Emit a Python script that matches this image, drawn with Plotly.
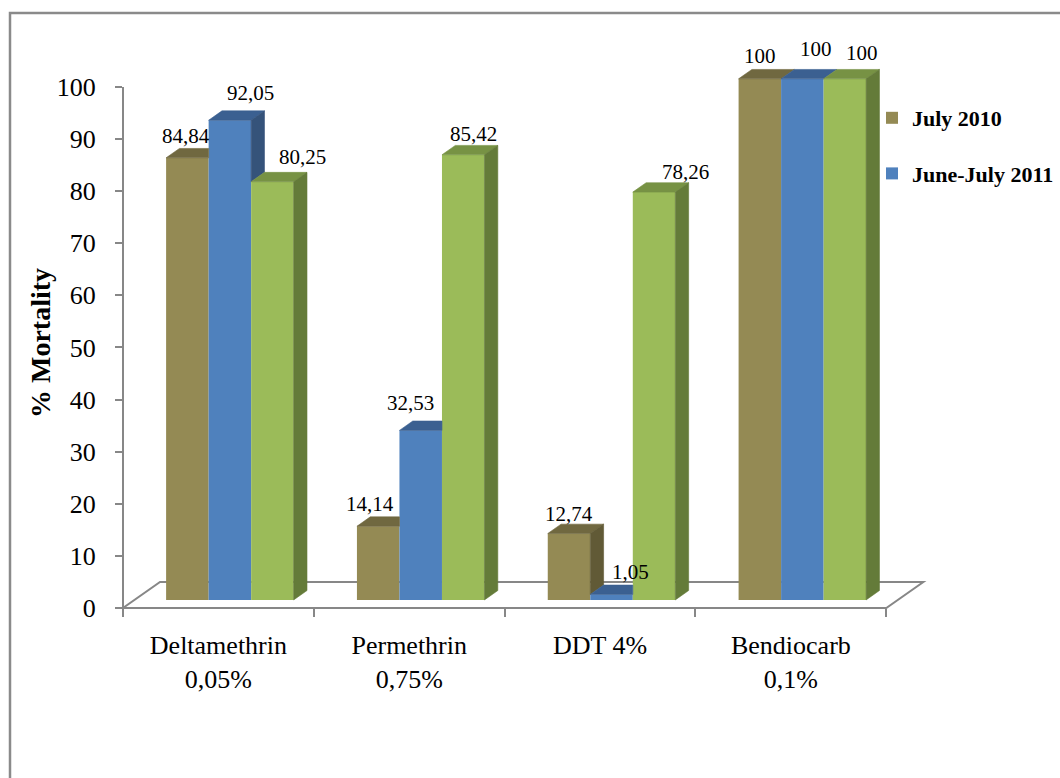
import plotly.graph_objects as go

# ---- data -------------------------------------------------------------
categories = ["Deltamethrin<br>0,05%", "Permethrin<br>0,75%", "DDT 4%", "Bendiocarb<br>0,1%"]
july_2010 = [84.84, 14.14, 12.74, 100]
june_july_2011 = [92.05, 32.53, 1.05, 100]
third_series = [80.25, 85.42, 78.26, 100]
y_tick_values = [0, 10, 20, 30, 40, 50, 60, 70, 80, 90, 100]

# ---- styling ----------------------------------------------------------
series = [
    dict(name="July 2010", values=july_2010, legend=True,
         front="#948A54", top="#706840", side="#615A36"),
    dict(name="June-July 2011", values=june_july_2011, legend=True,
         front="#4F81BD", top="#3B6091", side="#35537A"),
    dict(name="", values=third_series, legend=False,
         front="#9BBB59", top="#779244", side="#647B39"),
]

# value-label nudges in pixels (right, up) from the top centre of each front face
label_nudge = [
    [(-1.5, 21.7), (-8.5, 21.8), (0, 19.5), (0, 22.5)],
    [(21, 27), (-10.5, 27.5), (18.5, 22.5), (14, 29.5)],
    [(30.5, 24.4), (10.5, 21), (31.5, 20), (17, 26)],
]

SERIF = "Liberation Serif, Times New Roman, serif"
AXIS_GREY = "#878787"

W, H = 1060, 778
M_L, M_R, M_T, M_B = 123, 126, 40, 170
X_RANGE = [-0.5, 3.75]
Y_RANGE = [0, 109]

# pseudo-3D geometry (depth measured in y units, slanting up and right)
K = 0.0388          # x shift per unit of depth
FLOOR_DEPTH = 5.0
BAR_FRONT = 1.55    # depth of the bars' front faces
BAR_DEPTH = 1.8     # depth of each bar
BAR_W = 0.2228


def fmt(v):
    return str(int(v)) if float(v).is_integer() else f"{v:.2f}".replace(".", ",")


def px(xd):
    return (xd - X_RANGE[0]) / (X_RANGE[1] - X_RANGE[0])


def py(yd):
    return (yd - Y_RANGE[0]) / (Y_RANGE[1] - Y_RANGE[0])


fig = go.Figure()

n_series = len(series)
annotations = []
for j, s in enumerate(series):
    centers = [i + BAR_FRONT * K + (j - (n_series - 1) / 2) * BAR_W for i in range(len(categories))]
    fig.add_trace(go.Bar(
        x=centers, y=s["values"], base=BAR_FRONT, width=BAR_W,
        name=s["name"], showlegend=s["legend"], legendgroup=f"g{j}",
        marker=dict(color=s["front"], line=dict(width=0)),
        hoverinfo="skip",
    ))

    top_x, top_y, side_x, side_y = [], [], [], []
    dk = BAR_DEPTH * K
    for i, c in enumerate(centers):
        v = s["values"][i]
        nxt = series[j + 1]["values"][i] if j + 1 < n_series else 0.0
        xl, xr = c - BAR_W / 2, c + BAR_W / 2
        y0 = BAR_FRONT + v
        y1 = y0 + BAR_DEPTH
        # top face, trimmed where the taller neighbour's front hides it
        if nxt > v:
            top_x += [xl, xr, xr, xl + dk, xl, None]
            top_y += [y0, y0, y1, y1, y0, None]
        else:
            top_x += [xl, xr, xr + dk, xl + dk, xl, None]
            top_y += [y0, y0, y1, y1, y0, None]
        # right side face, only the band above the neighbour
        if v > nxt:
            lo = BAR_FRONT + max(nxt, 0.0)
            side_x += [xr, xr, xr + dk, xr + dk, xr, None]
            side_y += [lo, y0, y1, lo + BAR_DEPTH, lo, None]

        dx, dy = label_nudge[j][i]
        annotations.append(dict(
            x=c, y=y0, xref="x", yref="y", text=fmt(v), showarrow=False,
            xanchor="center", yanchor="middle", xshift=dx, yshift=dy,
            font=dict(family=SERIF, size=21, color="black"),
        ))

    for fx, fy, col in ((top_x, top_y, s["top"]), (side_x, side_y, s["side"])):
        if fx:
            fig.add_trace(go.Scatter(
                x=fx, y=fy, mode="lines", fill="toself", fillcolor=col,
                line=dict(color=col, width=0.6), showlegend=False,
                hoverinfo="skip",
            ))

# floor outline and value axis line
x_lo, x_hi = -0.5, len(categories) - 0.5
floor_pts = [(x_lo, 0), (x_hi, 0), (x_hi + FLOOR_DEPTH * K, FLOOR_DEPTH),
             (x_lo + FLOOR_DEPTH * K, FLOOR_DEPTH)]
floor_path = "M " + " L ".join(f"{px(a):.5f},{py(b):.5f}" for a, b in floor_pts) + " Z"

plot_w = W - M_L - M_R
plot_h = H - M_T - M_B


def paper_x(pix):
    return (pix - M_L) / plot_w


def paper_y(pix):
    return (H - M_B - pix) / plot_h


shapes = [
    dict(type="path", path=floor_path, xref="paper", yref="paper",
         line=dict(color=AXIS_GREY, width=2), layer="below"),
    dict(type="line", xref="paper", yref="paper",
         x0=px(x_lo), x1=px(x_lo), y0=py(0), y1=py(100),
         line=dict(color=AXIS_GREY, width=2)),
    dict(type="rect", xref="paper", yref="paper",
         x0=paper_x(10), x1=paper_x(1080), y0=paper_y(13), y1=paper_y(800),
         line=dict(color="#8A8A8A", width=2.5), fillcolor="rgba(0,0,0,0)"),
]

annotations.append(dict(
    x=paper_x(40), y=paper_y(343), xref="paper", yref="paper",
    text="% Mortality", textangle=-90, showarrow=False,
    xanchor="center", yanchor="middle",
    font=dict(family=SERIF, size=28, color="black", weight="bold"),
))

fig.update_layout(
    width=W, height=H,
    margin=dict(l=M_L, r=M_R, t=M_T, b=M_B, autoexpand=False),
    paper_bgcolor="white", plot_bgcolor="white",
    barmode="overlay",
    shapes=shapes,
    annotations=annotations,
    legend=dict(
        x=paper_x(872), y=paper_y(97), xanchor="left", yanchor="top",
        xref="paper", yref="paper",
        font=dict(family=SERIF, size=22, color="black", weight="bold"),
        traceorder="grouped", tracegroupgap=24, bgcolor="rgba(0,0,0,0)",
    ),
    xaxis=dict(
        range=X_RANGE, tickmode="array", tickvals=list(range(len(categories))),
        ticktext=categories, ticks="", showgrid=False, zeroline=False,
        showline=False, ticklabelstandoff=19,
        tickfont=dict(family=SERIF, size=26, color="black"),
        minor=dict(tickmode="array", tickvals=[x_lo + i for i in range(len(categories) + 1)],
                   ticks="outside", ticklen=8, tickwidth=2, tickcolor=AXIS_GREY),
        fixedrange=True,
    ),
    yaxis=dict(
        range=Y_RANGE, tickmode="array", tickvals=y_tick_values,
        ticks="outside", ticklen=7, tickwidth=2, tickcolor=AXIS_GREY,
        showgrid=False, zeroline=False, showline=False, ticklabelstandoff=14,
        tickfont=dict(family=SERIF, size=26, color="black"),
        fixedrange=True,
    ),
)

fig.write_html("out.html")
